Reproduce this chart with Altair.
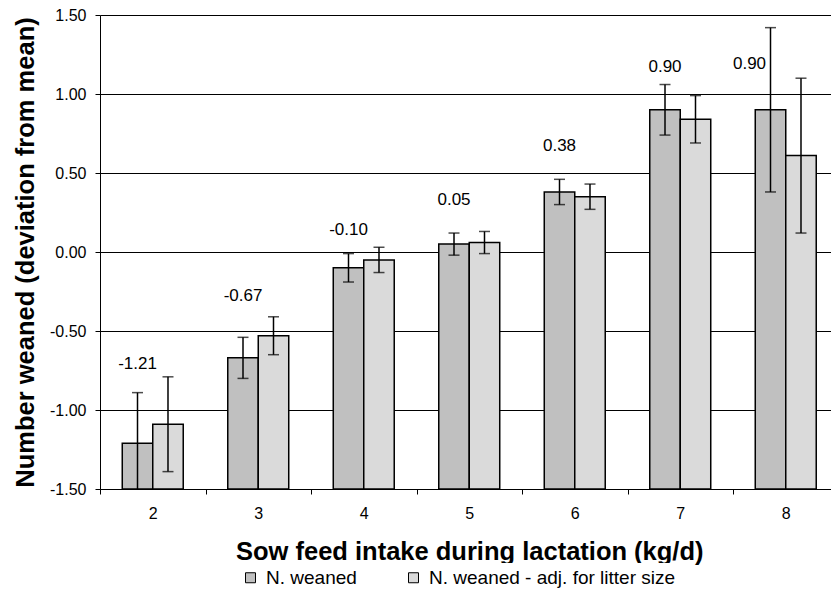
import altair as alt
import pandas as pd

# ---- data ----
cats = ["2", "3", "4", "5", "6", "7", "8"]
series_names = ["N. weaned", "N. weaned - adj. for litter size"]
weaned = [-1.21, -0.67, -0.10, 0.05, 0.38, 0.90, 0.90]
weaned_err = [0.32, 0.13, 0.09, 0.07, 0.08, 0.16, 0.52]
adjusted = [-1.09, -0.53, -0.05, 0.06, 0.35, 0.84, 0.61]
adjusted_err = [0.30, 0.12, 0.08, 0.07, 0.08, 0.15, 0.49]
label_anchor = [-0.71, -0.28, 0.14, 0.33, 0.67, 1.17, 1.19]  # data-unit anchor of value labels
y_ticks = [-1.5, -1.0, -0.5, 0.0, 0.5, 1.0, 1.5]
colors = ["#C0C0C0", "#DADADA"]

rows = []
for i, c in enumerate(cats):
    for s, vals, errs in [(series_names[0], weaned, weaned_err),
                          (series_names[1], adjusted, adjusted_err)]:
        rows.append(dict(cat=c, series=s, value=vals[i],
                         lo=vals[i] - errs[i], hi=vals[i] + errs[i],
                         label=f"{weaned[i]:.2f}", label_y=label_anchor[i]))
df = pd.DataFrame(rows)

FONT = "Liberation Sans, Arial, sans-serif"
Y_TITLE = "Number weaned (deviation from mean)"

x_scale = alt.Scale(domain=cats, range=[0, 738.5], paddingInner=0, paddingOuter=0)
x_axis = alt.Axis(title="Sow feed intake during lactation (kg/d)", labelAngle=0,
                  tickBand="extent", tickSize=5, tickColor="black", tickWidth=1,
                  domainColor="black", domainWidth=1, labelFontSize=16,
                  labelPadding=11, labelColor="black", labelFont=FONT,
                  titleFont=FONT, titleFontSize=25.5, titleFontWeight="bold",
                  titleColor="black", titlePadding=18, grid=False)
x_enc = alt.X("cat:N", sort=cats, scale=x_scale, axis=x_axis)
xoff = alt.XOffset("series:N", scale=alt.Scale(domain=series_names,
                                               paddingInner=0, paddingOuter=0.73))

y_scale = alt.Scale(domain=[-1.5, 1.5], nice=False, zero=False)
y_axis = alt.Axis(values=y_ticks,
                  labelExpr="replace(format(datum.value, '.2f'), '\u2212', '-')",
                  title=Y_TITLE, grid=True,
                  gridColor="black", gridWidth=1, gridOpacity=1,
                  tickSize=5, tickColor="black", domainColor="black",
                  domainWidth=1, labelFontSize=16, labelPadding=9,
                  labelColor="black", labelFont=FONT, titleFont=FONT,
                  titleFontSize=25.5, titleFontWeight="bold", titleColor="black",
                  titlePadding=11)


def yenc(field):
    return alt.Y(field, scale=y_scale, axis=y_axis, title=Y_TITLE)


color = alt.Color("series:N",
                  scale=alt.Scale(domain=series_names, range=colors),
                  legend=alt.Legend(title=None, orient="none", legendX=136,
                                    legendY=548, direction="horizontal",
                                    fillColor="white", padding=5,
                                    symbolType="square", symbolSize=100,
                                    symbolStrokeColor="black",
                                    symbolStrokeWidth=1, symbolOpacity=1,
                                    labelFontSize=19, labelFont=FONT,
                                    labelColor="black", labelOffset=6,
                                    columnPadding=47, labelLimit=0, zindex=1))

base = alt.Chart(df)

bars = base.mark_bar(stroke="black", strokeWidth=1.5, opacity=1).encode(
    x=x_enc, xOffset=xoff,
    y=yenc("value:Q"),
    y2=alt.datum(y_ticks[0]),
    color=color,
)

rules = base.mark_rule(color="black", strokeWidth=1.5, clip=True).encode(
    x=x_enc, xOffset=xoff,
    y=yenc("lo:Q"), y2="hi:Q",
)

caps_hi = base.mark_tick(color="black", size=11, thickness=1.5, clip=True).encode(
    x=x_enc, xOffset=xoff, y=yenc("hi:Q"),
)
caps_lo = base.mark_tick(color="black", size=11, thickness=1.5, clip=True).encode(
    x=x_enc, xOffset=xoff, y=yenc("lo:Q"),
)

lab_src = base.transform_filter(alt.datum.series == series_names[0])
labels = lab_src.transform_filter(alt.datum.cat != "8").mark_text(
    font=FONT, fontSize=17, color="black", baseline="middle", align="center"
).encode(x=x_enc, xOffset=xoff, y=yenc("label_y:Q"), text="label:N")
labels8 = lab_src.transform_filter(alt.datum.cat == "8").mark_text(
    font=FONT, fontSize=17, color="black", baseline="middle", align="center", dx=-21
).encode(x=x_enc, xOffset=xoff, y=yenc("label_y:Q"), text="label:N")

chart = alt.layer(bars, rules, caps_hi, caps_lo, labels, labels8).properties(
    width=731, height=474,
    autosize=alt.AutoSizeParams(type="none"),
    padding={"left": 100, "top": 15, "right": 0, "bottom": 114},
    background="white",
).configure_view(stroke=None)

chart.save("out.html", embed_options={"renderer": "svg", "actions": False})
